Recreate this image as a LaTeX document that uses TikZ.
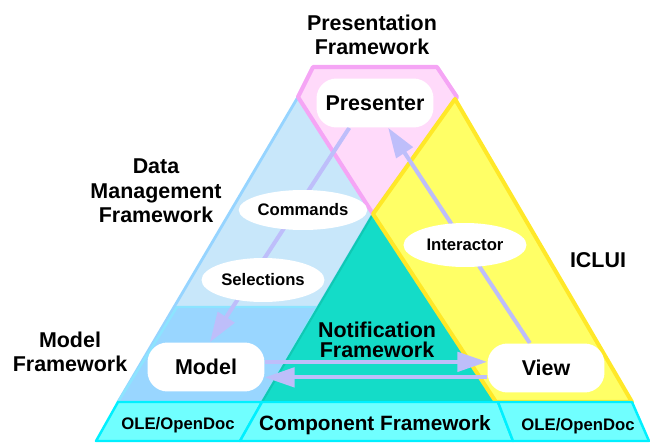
\documentclass[tikz,border=0pt]{standalone}
\usepackage{fontspec}
\setmainfont{Liberation Sans}
\usetikzlibrary{shapes,arrows.meta}
\definecolor{dmfill}{RGB}{200,231,250}
\definecolor{dmline}{RGB}{150,212,255}
\definecolor{mdfill}{RGB}{153,214,255}
\definecolor{mdline}{RGB}{140,228,255}
\definecolor{pffill}{RGB}{255,218,250}
\definecolor{pfline}{RGB}{245,165,245}
\definecolor{iufill}{RGB}{255,255,102}
\definecolor{iuline}{RGB}{255,232,40}
\definecolor{nffill}{RGB}{20,220,200}
\definecolor{nfline}{RGB}{16,200,180}
\definecolor{cffill}{RGB}{112,255,255}
\definecolor{cfline}{RGB}{0,240,255}
\definecolor{flowc}{RGB}{190,190,250}
\pgfdeclarelayer{back}
\pgfdeclarelayer{mid}
\pgfsetlayers{back,mid,main}
\tikzset{basic/.style={font=\bfseries\fontsize{12.2}{14}\selectfont,align=center,inner sep=0pt}}
\tikzset{obj/.style={basic,fill=white,rounded corners=0.4cm,minimum width=2.34cm,minimum height=0.98cm}}
\tikzset{role/.style={ellipse,fill=white,inner sep=0pt,font=\bfseries\fontsize{9.5}{11}\selectfont,minimum width=2.46cm,minimum height=0.88cm}}
\tikzset{small/.style={basic,font=\bfseries\fontsize{9.5}{11}\selectfont}}
\tikzset{band/.style={line width=2.3pt,line join=round}}
\tikzset{flow/.style={draw=flowc,line width=2.3pt,-{Triangle[length=17pt,width=11pt]}}}

\begin{document}
\begin{tikzpicture}[x=0.02cm,y=-0.02cm]
    \useasboundingbox (0,0) rectangle (650,443);

    \begin{pgfonlayer}{back}
        \path[band,fill=dmfill,draw=dmline,line width=1.6pt] (298,97) -- (373,214) -- (262,402) -- (118,402) -- cycle;
        \path[band,fill=mdfill,draw=mdline,line width=1.4pt] (177,307) -- (317,307) -- (262,402) -- (118,402) -- cycle;
        \path[fill=nffill,draw=nfline,line width=1.2pt] (373,214) -- (496,402) -- (262,402) -- cycle;
        \path[band,fill=pffill,draw=pfline] (313,67) -- (437,67) -- (457,97) -- (373,214) -- (298,97) -- cycle;
        \path[band,fill=iufill,draw=iuline] (455,99) -- (632,402) -- (496,402) -- (373,214) -- cycle;
        \path[band,fill=cffill,draw=cfline,line width=1.4pt] (118,402) -- (262,402) -- (240,441) -- (96,441) -- cycle;
        \path[band,fill=cffill,draw=cfline,line width=1.4pt] (262,402) -- (498,402) -- (513,441) -- (240,441) -- cycle;
        \path[band,fill=cffill,draw=cfline,line width=1.4pt] (498,402) -- (632,402) -- (649,441) -- (513,441) -- cycle;
    \end{pgfonlayer}

    \node[basic] (pft) at (372,35) {Presentation\\Framework};
    \node[basic] (dmt) at (156,191) {Data\\Management\\Framework};
    \node[basic] (mft) at (70,352) {Model\\Framework};
    \node[basic,font=\bfseries\fontsize{12.2}{11.2}\selectfont] (nft) at (377,340) {Notification\\Framework};
    \node[basic] (iut) at (598,260) {ICLUI};
    \node[basic,font=\bfseries\fontsize{11.8}{14}\selectfont] (cft) at (375,425) {Component Framework};
    \node[small] (ole1) at (178,425) {OLE/OpenDoc};
    \node[small] (ole2) at (578,426) {OLE/OpenDoc};

    \node[obj] (pres) at (375,103) {Presenter};
    \node[obj] (model) at (206,367) {Model};
    \node[obj] (view) at (546,368) {View};

    \node[role,minimum height=0.8cm] (cmd) at (303,210) {Commands};
    \node[role] (sel) at (263,280) {Selections};
    \node[role] (inter) at (465,245) {Interactor};

    \begin{pgfonlayer}{mid}
        \path[flow] (pres.224) -- (model.81);
        \path[flow] (view.123) -- (pres.298);
        \path[flow] (model.5) -- (view.west |- model.5);
        \path[flow] (view.west |- model.350) -- (model.350);
    \end{pgfonlayer}
\end{tikzpicture}
\end{document}
